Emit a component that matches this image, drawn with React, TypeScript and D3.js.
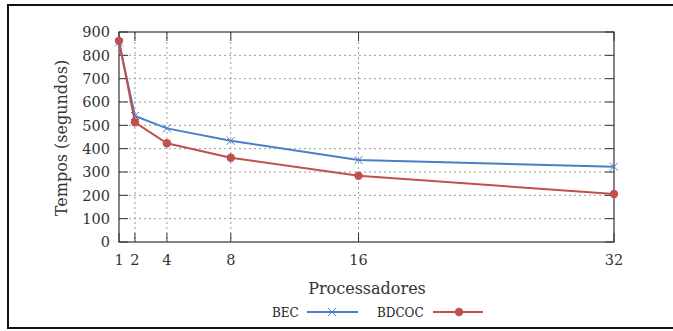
import React from "react"
import * as d3 from "d3"

// processadores
const procs = [1, 2, 4, 8, 16, 32]
// tempos em segundos
const becValues = [855, 540, 487, 434, 351, 323]
const bdcocValues = [862, 513, 423, 361, 284, 206]
const yTicks = [0, 100, 200, 300, 400, 500, 600, 700, 800, 900]

const W = 673
const H = 331
const left = 119
const right = 614
const top = 32
const bottom = 242

const BLUE = "#4a7fc8"
const RED = "#c0504d"
const FONT = "'DejaVu Serif', serif"

const App = () => {
  const x = d3.scaleLinear().domain([1, 32]).range([left, right])
  const y = d3.scaleLinear().domain([0, 900]).range([bottom, top])

  const line = d3.line<number>()
    .x((d, i) => x(procs[i]))
    .y(d => y(d))

  const cross = (cx: number, cy: number, r = 4) =>
    `M${cx - r},${cy - r}L${cx + r},${cy + r}M${cx - r},${cy + r}L${cx + r},${cy - r}`

  return (
    <svg width={W} height={H} style={{ position: "absolute", left: 0, top: 0 }}>
      <rect x={0} y={0} width={W} height={H} fill="#fff" />
      {/* outer frame */}
      <rect x={8} y={5} width={W + 10} height={323} fill="none" stroke="#111" strokeWidth={2} />

      {/* grid */}
      {yTicks.slice(1, -1).map(t => (
        <line key={"gy" + t} x1={left} x2={right} y1={y(t)} y2={y(t)}
          stroke="#999" strokeWidth={1} strokeDasharray="2,3" />
      ))}
      {procs.slice(1, -1).map(p => (
        <line key={"gx" + p} x1={x(p)} x2={x(p)} y1={top} y2={bottom}
          stroke="#999" strokeWidth={1} strokeDasharray="2,3" />
      ))}

      {/* ticks inward on all sides */}
      {yTicks.map(t => (
        <g key={"ty" + t} stroke="#333" strokeWidth={1}>
          <line x1={left} x2={left + 9} y1={y(t)} y2={y(t)} />
          <line x1={right - 9} x2={right} y1={y(t)} y2={y(t)} />
        </g>
      ))}
      {procs.map(p => (
        <g key={"tx" + p} stroke="#333" strokeWidth={1}>
          <line x1={x(p)} x2={x(p)} y1={bottom} y2={bottom - 9} />
          <line x1={x(p)} x2={x(p)} y1={top} y2={top + 9} />
        </g>
      ))}

      {/* plot frame */}
      <rect x={left} y={top} width={right - left} height={bottom - top}
        fill="none" stroke="#333" strokeWidth={1.2} />

      {/* tick labels */}
      {yTicks.map(t => (
        <text key={"ly" + t} x={left - 9} y={y(t)} dy="0.36em" textAnchor="end"
          fontFamily={FONT} fontSize={14.5} fill="#333">{t}</text>
      ))}
      {procs.map(p => (
        <text key={"lx" + p} x={x(p)} y={265} textAnchor="middle"
          fontFamily={FONT} fontSize={14.5} fill="#333">{p}</text>
      ))}

      {/* axis titles */}
      <text transform={`translate(67,${(top + bottom) / 2 + 1}) rotate(-90)`} textAnchor="middle"
        fontFamily={FONT} fontSize={16} fill="#333">Tempos (segundos)</text>
      <text x={367} y={294} textAnchor="middle"
        fontFamily={FONT} fontSize={16} fill="#333">Processadores</text>

      {/* series */}
      <path d={line(becValues) || ""} fill="none" stroke={BLUE} strokeWidth={2} />
      {becValues.map((v, i) => (
        <path key={"mb" + i} d={cross(x(procs[i]), y(v))} stroke={BLUE} strokeWidth={1} fill="none" />
      ))}
      <path d={line(bdcocValues) || ""} fill="none" stroke={RED} strokeWidth={2} />
      {bdcocValues.map((v, i) => (
        <circle key={"mr" + i} cx={x(procs[i])} cy={y(v)} r={4.2} fill={RED} />
      ))}

      {/* legend */}
      <text x={272} y={317} fontFamily={FONT} fontSize={12} fill="#222">BEC</text>
      <line x1={307} x2={358} y1={312} y2={312} stroke={BLUE} strokeWidth={2} />
      <path d={cross(332, 312)} stroke={BLUE} strokeWidth={1} fill="none" />
      <text x={377} y={317} fontFamily={FONT} fontSize={12} fill="#222">BDCOC</text>
      <line x1={433} x2={483} y1={312} y2={312} stroke={RED} strokeWidth={2} />
      <circle cx={459} cy={312} r={4.2} fill={RED} />
    </svg>
  )
}

export default App
